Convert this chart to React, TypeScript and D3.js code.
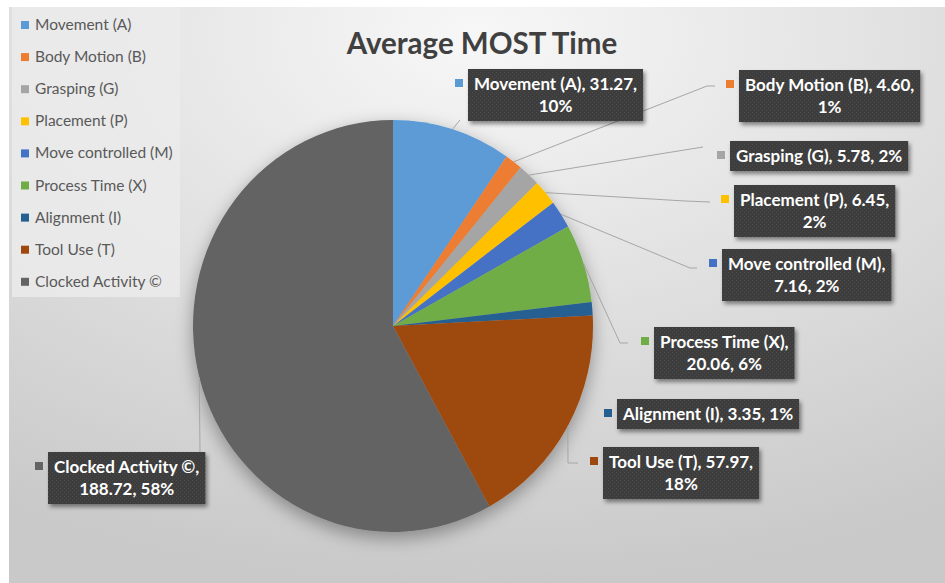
import React, { useEffect, useRef } from 'react';
import * as d3 from 'd3';

const categories = ['Movement (A)', 'Body Motion (B)', 'Grasping (G)', 'Placement (P)', 'Move controlled (M)', 'Process Time (X)', 'Alignment (I)', 'Tool Use (T)', 'Clocked Activity ©'];
const values = [31.27, 4.6, 5.78, 6.45, 7.16, 20.06, 3.35, 57.97, 188.72];
const colors = ['#5B9BD5', '#ED7D31', '#A5A5A5', '#FFC000', '#4472C4', '#70AD47', '#255E91', '#9E480E', '#636363'];
const title = 'Average MOST Time';

// layout (label placement as in the original, not data)
const labelBoxes = [[468, 69], [739, 70], [730, 141], [734, 185], [722, 249], [654, 327], [617, 399], [603, 447], [48, 452]];
const labelBreaks = [2, 2, 0, 2, 1, 1, 0, 2, 1]; // 0 single line, 1 break after name, 2 break after value
const leaderEnds = [[[460, 120]], [[707, 86], [715, 86]], [[703, 147]], [[685, 201], [710, 202]], [[690, 268], [697, 268]], [[620, 343], [628, 343]], [], [[568, 463], [578, 463]], [[200, 452]]];

const W = 945, H = 583;
const cx = 393, cy = 326, R = 200, YS = 1.03;
const FONT = 'Lato, "Open Sans", sans-serif';

export default function App() {
  const ref = useRef<SVGSVGElement>(null);
  useEffect(() => {
    const svg = d3.select(ref.current);
    svg.selectAll('*').remove();
    const defs = svg.append('defs');
    const rg = defs.append('radialGradient').attr('id', 'bg').attr('cx', '0.5').attr('cy', '0.05').attr('r', '0.95');
    rg.append('stop').attr('offset', '0').attr('stop-color', '#f7f7f7');
    rg.append('stop').attr('offset', '0.55').attr('stop-color', '#dedede');
    rg.append('stop').attr('offset', '1').attr('stop-color', '#c9c9c9');
    const sh = defs.append('filter').attr('id', 'pieShadow').attr('x', '-20%').attr('y', '-20%').attr('width', '140%').attr('height', '140%');
    sh.append('feDropShadow').attr('dx', 0).attr('dy', 6).attr('stdDeviation', 9).attr('flood-color', '#000').attr('flood-opacity', 0.35);
    const bs = defs.append('filter').attr('id', 'boxShadow').attr('x', '-10%').attr('y', '-20%').attr('width', '130%').attr('height', '160%');
    bs.append('feDropShadow').attr('dx', 2).attr('dy', 3).attr('stdDeviation', 2).attr('flood-color', '#000').attr('flood-opacity', 0.45);
    const pat = defs.append('pattern').attr('id', 'dots').attr('width', 4).attr('height', 4).attr('patternUnits', 'userSpaceOnUse');
    pat.append('rect').attr('width', 4).attr('height', 4).attr('fill', '#3d3d3d');
    pat.append('rect').attr('x', 0).attr('y', 0).attr('width', 1).attr('height', 1).attr('fill', '#4c4c4c');
    pat.append('rect').attr('x', 2).attr('y', 2).attr('width', 1).attr('height', 1).attr('fill', '#4c4c4c');

    svg.append('rect').attr('width', W).attr('height', H).attr('fill', '#ffffff');
    svg.append('rect').attr('x', 9).attr('y', 7).attr('width', W - 9).attr('height', H - 7).attr('fill', 'url(#bg)');

    // title
    svg.append('text').attr('x', 482).attr('y', 54).attr('text-anchor', 'middle')
      .attr('font-family', FONT).attr('font-weight', 700).attr('font-size', 29.5).attr('fill', '#404040').text(title);

    // legend
    const lg = svg.append('g');
    lg.append('rect').attr('x', 12).attr('y', 7).attr('width', 168).attr('height', 290).attr('fill', '#ebebeb').attr('opacity', 0.85);
    categories.forEach((c, i) => {
      const y = 25 + i * 32.1;
      lg.append('rect').attr('x', 21).attr('y', y - 4).attr('width', 8).attr('height', 8).attr('fill', colors[i]);
      lg.append('text').attr('x', 35).attr('y', y + 5).attr('font-family', FONT).attr('font-size', 15.5).attr('fill', '#595959').text(c);
    });

    // pie
    const total = d3.sum(values);
    const pie = d3.pie<number>().sort(null).value(d => d)(values);
    const arc = d3.arc<d3.PieArcDatum<number>>().innerRadius(0).outerRadius(R);
    const pg = svg.append('g').attr('transform', `translate(${cx},${cy}) scale(1,${YS})`).attr('filter', 'url(#pieShadow)');
    pg.selectAll('path').data(pie).join('path').attr('d', arc as any).attr('fill', (d, i) => colors[i]);

    // leader lines
    pie.forEach((d, i) => {
      const ends = leaderEnds[i];
      if (!ends.length) return;
      const a = (d.startAngle + d.endAngle) / 2;
      const start: [number, number] = [cx + R * Math.sin(a), cy - R * YS * Math.cos(a)];
      const pts = [start, ...ends.map(e => [e[0], e[1]] as [number, number])];
      svg.append('path').attr('d', d3.line()(pts)).attr('fill', 'none').attr('stroke', '#a6a6a6').attr('stroke-width', 1);
    });

    // labels
    const fs = 17, lh = 22;
    pie.forEach((d, i) => {
      const v = values[i];
      const pct = Math.round((v / total) * 100) + '%';
      const vs = v.toFixed(2);
      let lines: string[];
      if (labelBreaks[i] === 0) lines = [`${categories[i]}, ${vs}, ${pct}`];
      else if (labelBreaks[i] === 1) lines = [`${categories[i]},`, `${vs}, ${pct}`];
      else lines = [`${categories[i]}, ${vs},`, pct];
      const [bx, by] = labelBoxes[i];
      const g = svg.append('g');
      const rect = g.append('rect').attr('x', bx).attr('y', by).attr('height', 8 + lines.length * lh)
        .attr('fill', 'url(#dots)').attr('filter', 'url(#boxShadow)');
      const texts = lines.map((l, k) => g.append('text').attr('y', by + 21 + k * lh).attr('text-anchor', 'middle')
        .attr('font-family', FONT).attr('font-weight', 700).attr('font-size', fs).attr('fill', '#ffffff').text(l));
      const wMax = d3.max(texts, t => (t.node() as SVGTextElement).getComputedTextLength()) || 0;
      const bw = wMax + 12;
      rect.attr('width', bw);
      texts.forEach(t => t.attr('x', bx + bw / 2));
      g.append('rect').attr('x', bx - 13).attr('y', by + 10).attr('width', 8).attr('height', 8).attr('fill', colors[i]);
    });
  }, []);
  return (
    <svg ref={ref} width={W} height={H} style={{ position: 'absolute', left: 0, top: 0, display: 'block' }} />
  );
}
